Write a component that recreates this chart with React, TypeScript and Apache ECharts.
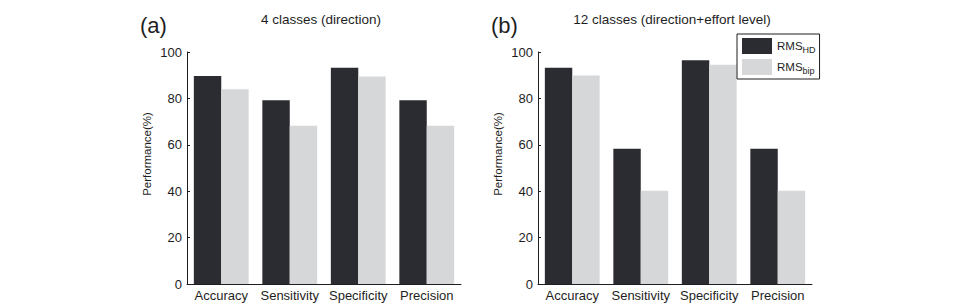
import React, { useEffect, useRef } from "react";
import * as echarts from "echarts";

// Metric categories shared by both panels
const categories = ["Accuracy", "Sensitivity", "Specificity", "Precision"];

// Panel (a): 4 classes (direction)
const rmsHdDirection = [89.7, 79.2, 93.2, 79.2];
const rmsBipDirection = [83.9, 68.2, 89.4, 68.2];

// Panel (b): 12 classes (direction + effort level)
const rmsHdEffort = [93.2, 58.3, 96.4, 58.3];
const rmsBipEffort = [89.9, 40.2, 94.5, 40.2];

const yTicks = { min: 0, max: 100, interval: 20 };

const panelTitles = ["4 classes (direction)", "12 classes (direction+effort level)"];
const panelLetters = ["(a)", "(b)"];
const yAxisTitle = "Performance(%)";
const seriesNames = ["RMS_HD", "RMS_bip"];

const DARK = "#2b2c32";
const LIGHT = "#d6d7d9";
const INK = "#1e1e1e";
const FONT = "'Liberation Sans', Arial, Helvetica, sans-serif";

export default function App() {
  const ref = useRef<HTMLDivElement>(null);

  useEffect(() => {
    if (!ref.current) return;
    const chart = echarts.init(ref.current, undefined, { renderer: "svg" });

    const grids = [
      { left: 187, top: 52, width: 274, height: 232 },
      { left: 538, top: 52, width: 274, height: 232 },
    ];

    const xAxes = grids.map((_, i) => ({
      type: "category" as const,
      gridIndex: i,
      data: categories,
      axisLine: { show: true, lineStyle: { color: INK, width: 1 } },
      axisTick: { show: false },
      axisLabel: { color: INK, fontSize: 13, fontFamily: FONT, margin: 5, interval: 0 },
    }));

    const yAxes = grids.map((_, i) => ({
      type: "value" as const,
      gridIndex: i,
      min: yTicks.min,
      max: yTicks.max,
      interval: yTicks.interval,
      splitLine: { show: false },
      axisLine: { show: true, lineStyle: { color: INK, width: 1 } },
      axisTick: { show: true, inside: true, length: 3, lineStyle: { color: INK } },
      axisLabel: { color: INK, fontSize: 13, fontFamily: FONT, margin: 5 },
    }));

    const mkBar = (name: string, data: number[], color: string, idx: number) => ({
      type: "bar" as const,
      name,
      data,
      xAxisIndex: idx,
      yAxisIndex: idx,
      barGap: "0%",
      barCategoryGap: "20%",
      itemStyle: { color },
    });

    const series = [
      mkBar(seriesNames[0], rmsHdDirection, DARK, 0),
      mkBar(seriesNames[1], rmsBipDirection, LIGHT, 0),
      mkBar(seriesNames[0], rmsHdEffort, DARK, 1),
      mkBar(seriesNames[1], rmsBipEffort, LIGHT, 1),
    ];

    const graphic: any[] = [];
    grids.forEach((g, i) => {
      graphic.push({
        type: "text",
        x: g.left - 47,
        y: 25,
        style: {
          text: panelLetters[i],
          font: `22px ${FONT}`,
          fill: INK,
          textAlign: "left",
          textVerticalAlign: "middle",
        },
      });
      graphic.push({
        type: "text",
        x: g.left + g.width / 2 - 3,
        y: 19,
        style: {
          text: panelTitles[i],
          font: `13.5px ${FONT}`,
          fill: INK,
          textAlign: "center",
          textVerticalAlign: "middle",
        },
      });
      graphic.push({
        type: "text",
        x: g.left - 40,
        y: 154,
        rotation: Math.PI / 2,
        style: {
          text: yAxisTitle,
          font: `11.5px ${FONT}`,
          fill: INK,
          textAlign: "center",
          textVerticalAlign: "middle",
        },
      });
    });

    chart.setOption({
      animation: false,
      backgroundColor: "#ffffff",
      textStyle: { fontFamily: FONT },
      grid: grids,
      xAxis: xAxes,
      yAxis: yAxes,
      legend: {
        data: seriesNames,
        orient: "vertical",
        left: 737,
        top: 34,
        padding: [4, 4, 4, 5],
        itemWidth: 30,
        itemHeight: 16,
        itemGap: 5,
        icon: "rect",
        borderColor: INK,
        borderWidth: 1,
        backgroundColor: "#ffffff",
        selectedMode: false,
        formatter: (name: string) =>
          name === "RMS_HD" ? "{m|RMS}{s|HD}" : "{m|RMS}{s|bip}",
        textStyle: {
          color: INK,
          rich: {
            m: { fontSize: 11.5, fontFamily: FONT, color: INK },
            s: { fontSize: 9, fontFamily: FONT, color: INK, verticalAlign: "bottom", padding: [7, 0, 0, 0] },
          },
        },
      },
      graphic,
      series,
    });

    return () => chart.dispose();
  }, []);

  return (
    <div
      ref={ref}
      style={{ position: "fixed", left: 0, top: 0, width: 961, height: 306, background: "#fff" }}
    />
  );
}
